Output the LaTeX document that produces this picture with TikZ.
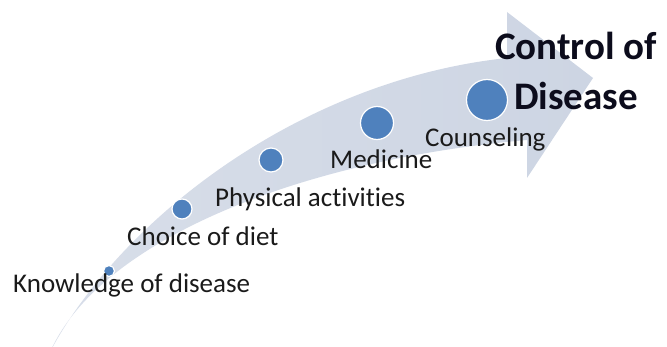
\documentclass[tikz,border=0pt]{standalone}
\usepackage{fontspec}
\setmainfont{Carlito}[Ligatures={NoCommon}]
\usetikzlibrary{positioning}
\definecolor{dotblue}{RGB}{79,129,189}
\definecolor{arrowlight}{RGB}{216,222,233}
\definecolor{arrowdark}{RGB}{205,213,227}
\definecolor{textdark}{RGB}{26,26,26}
\definecolor{goalnavy}{RGB}{12,12,28}
\tikzset{
  dot/.style={
    shape = circle,
    draw = white,
    line width = 1.2pt,
    fill = dotblue,
    inner sep = 0pt
  },
  stage/.style={
    anchor = base west,
    inner sep = 0pt,
    text = textdark,
    font = \fontsize{27}{32}\selectfont
  },
  goal/.style={
    align = center,
    inner sep = 0pt,
    text = goalnavy,
    font = \bfseries\fontsize{39}{50}\selectfont
  }
}
\begin{document}
\begin{tikzpicture}[x=1pt,y=-1pt]
  \useasboundingbox (0,0) rectangle (667,347);
  % the curved arrow
  \shade[left color=arrowlight, right color=arrowdark]
    (50,352) .. controls (120,220) and (300,80) .. (507,58)
    -- (507,12) -- (593,78) -- (527,178) -- (527,140)
    .. controls (300,160) and (100,240) .. (50,352) -- cycle;
  % steps
  \node[dot, minimum size=11pt] (know) at (109,271) {};
  \node[dot, minimum size=20pt] (diet) at (182,209) {};
  \node[dot, minimum size=24pt] (phys) at (271,160) {};
  \node[dot, minimum size=33pt] (med) at (377,123) {};
  \node[dot, minimum size=41pt] (couns) at (487,100) {};
  \node[stage] (knowtext) at (13,293) {Knowledge of disease};
  \node[stage] (diettext) at (127,246) {Choice of diet};
  \node[stage] (phystext) at (215,207) {Physical activities};
  \node[stage] (medtext) at (330,169) {Medicine};
  \node[stage] (counstext) at (425,147) {Counseling};
  \node[goal, anchor=base] (goaltext) at (576,110) {Control of\\Disease};
\end{tikzpicture}
\end{document}
